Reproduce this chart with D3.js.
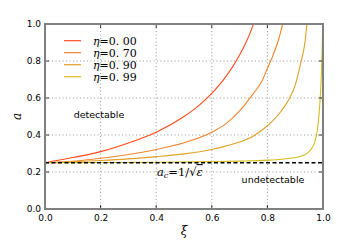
<!DOCTYPE html>
<html>
<head>
<meta charset="utf-8">
<script src="https://cdn.jsdelivr.net/npm/d3@7"></script>
<style>
body { margin: 0; background: #fff; }
svg { display: block; }
.tick text { font-family: "DejaVu Sans", sans-serif; font-size: 9px; fill: #000; }
</style>
</head>
<body>
<svg width="360" height="240"></svg>
<script>
// values
var etaLabels = ["0.00", "0.70", "0.90", "0.99"];
var colors = ["#ff4a1c", "#f3842c", "#dfa128", "#d4bd1c"];

var xi0 = [0, 0.1, 0.2, 0.3, 0.4, 0.5, 0.55, 0.6, 0.65, 0.7, 0.72, 0.74, 0.75];
var a0  = [0.25, 0.278, 0.31, 0.357, 0.415, 0.5, 0.555, 0.625, 0.714, 0.833, 0.89, 0.96, 1.0];

var xi1 = [0, 0.1, 0.2, 0.3, 0.4, 0.5, 0.6, 0.65, 0.7, 0.75, 0.78, 0.8, 0.82, 0.84, 0.855];
var a1  = [0.25, 0.258, 0.274, 0.295, 0.322, 0.358, 0.415, 0.46, 0.53, 0.625, 0.69, 0.76, 0.83, 0.915, 1.0];

var xi2 = [0, 0.1, 0.2, 0.3, 0.4, 0.5, 0.6, 0.65, 0.7, 0.75, 0.8, 0.85, 0.88, 0.9, 0.92, 0.935, 0.942];
var a2  = [0.25, 0.255, 0.262, 0.271, 0.283, 0.298, 0.322, 0.34, 0.362, 0.395, 0.45, 0.53, 0.6, 0.67, 0.79, 0.9, 1.0];

var xi3 = [0, 0.2, 0.4, 0.6, 0.7, 0.8, 0.85, 0.9, 0.93, 0.95, 0.96, 0.97, 0.98, 0.985, 0.99, 0.994, 0.997, 0.999];
var a3  = [0.25, 0.251, 0.253, 0.256, 0.259, 0.264, 0.269, 0.278, 0.29, 0.31, 0.33, 0.36, 0.43, 0.5, 0.6, 0.72, 0.86, 1.0];

var ticks = [0, 0.2, 0.4, 0.6, 0.8, 1.0];
var aCrit = 0.25;

var svg = d3.select("svg"),
    pL = 45, pR = 323, pT = 24, pB = 209;

var x = d3.scaleLinear().domain([0, 1]).range([pL, pR]);
var y = d3.scaleLinear().domain([0, 1]).range([pB, pT]);

var series = [[xi0, a0], [xi1, a1], [xi2, a2], [xi3, a3]].map(function(s) {
  return s[0].map(function(v, i) { return [v, s[1][i]]; });
});

// grid
var grid = svg.append("g");
grid.selectAll(".gx").data(ticks.slice(1, -1)).enter().append("line")
    .attr("x1", function(d) { return x(d); }).attr("x2", function(d) { return x(d); })
    .attr("y1", pT).attr("y2", pB);
grid.selectAll(".gy").data(ticks.slice(1, -1)).enter().append("line")
    .attr("y1", function(d) { return y(d); }).attr("y2", function(d) { return y(d); })
    .attr("x1", pL).attr("x2", pR);
grid.selectAll("line").attr("stroke", "#555").attr("stroke-width", 0.6).attr("stroke-dasharray", "1,2.5");

svg.append("clipPath").attr("id", "clip").append("rect")
    .attr("x", pL).attr("y", pT).attr("width", pR - pL).attr("height", pB - pT);

var line = d3.line()
    .x(function(d) { return x(d[0]); })
    .y(function(d) { return y(d[1]); })
    .curve(d3.curveMonotoneX);

var plot = svg.append("g").attr("clip-path", "url(#clip)");
plot.selectAll("path.curve").data(series).enter().append("path")
    .attr("class", "curve")
    .attr("d", line)
    .attr("fill", "none")
    .attr("stroke", function(d, i) { return colors[i]; })
    .attr("stroke-width", 1.1);

plot.append("line")
    .attr("x1", x(0)).attr("x2", x(1))
    .attr("y1", y(aCrit)).attr("y2", y(aCrit))
    .attr("stroke", "#000").attr("stroke-width", 1.3).attr("stroke-dasharray", "4,2.5");

// axes
var xAxis = d3.axisBottom(x).tickValues(ticks).tickFormat(d3.format(".1f")).tickSize(0).tickPadding(6);
var yAxis = d3.axisLeft(y).tickValues(ticks).tickFormat(d3.format(".1f")).tickSize(0).tickPadding(4);
svg.append("g").attr("transform", "translate(0," + pB + ")").call(xAxis).select(".domain").remove();
svg.append("g").attr("transform", "translate(" + pL + ",0)").call(yAxis).select(".domain").remove();

// inward tick marks on all sides
var tk = svg.append("g").attr("stroke", "#000").attr("stroke-width", 0.8);
ticks.forEach(function(t) {
  tk.append("line").attr("x1", x(t)).attr("x2", x(t)).attr("y1", pB).attr("y2", pB - 4);
  tk.append("line").attr("x1", x(t)).attr("x2", x(t)).attr("y1", pT).attr("y2", pT + 4);
  tk.append("line").attr("y1", y(t)).attr("y2", y(t)).attr("x1", pL).attr("x2", pL + 4);
  tk.append("line").attr("y1", y(t)).attr("y2", y(t)).attr("x1", pR).attr("x2", pR - 4);
});

svg.append("rect")
    .attr("x", pL).attr("y", pT).attr("width", pR - pL).attr("height", pB - pT)
    .attr("fill", "none").attr("stroke", "#808080").attr("stroke-width", 2);

// axis labels
svg.append("text").attr("x", x(0.5)).attr("y", 235)
    .attr("text-anchor", "middle")
    .style("font-family", "DejaVu Serif, serif").style("font-style", "italic").style("font-size", "12px")
    .text("ξ");
svg.append("text").attr("transform", "translate(21," + y(0.5) + ") rotate(-90)")
    .attr("text-anchor", "middle")
    .style("font-family", "DejaVu Serif, serif").style("font-style", "italic").style("font-size", "12px")
    .text("a");

// legend
var lg = svg.append("g");
etaLabels.forEach(function(lab, i) {
  var ly = 40.7 + i * 12;
  lg.append("line").attr("x1", 64).attr("x2", 81).attr("y1", ly).attr("y2", ly)
      .attr("stroke", colors[i]).attr("stroke-width", 1.2);
  var t = lg.append("text").attr("x", 93).attr("y", ly + 4)
      .style("font-family", "DejaVu Serif, serif").style("font-size", "11px");
  t.append("tspan").style("font-style", "italic").text("η");
  t.append("tspan").text("=" + lab.replace(".", ". "));
});

// region labels
svg.append("text").attr("x", 99).attr("y", 118).attr("text-anchor", "middle")
    .style("font-family", "DejaVu Sans, sans-serif").style("font-size", "9.5px").text("detectable");
svg.append("text").attr("x", 273).attr("y", 183).attr("text-anchor", "middle")
    .style("font-family", "DejaVu Sans, sans-serif").style("font-size", "9.5px").text("undetectable");

var ac = svg.append("text").attr("x", 157).attr("y", 176)
    .style("font-family", "DejaVu Serif, serif").style("font-size", "11.5px");
ac.append("tspan").style("font-style", "italic").text("a");
ac.append("tspan").attr("dy", 2).style("font-size", "8px").style("font-style", "italic").text("c");
ac.append("tspan").attr("dy", -2).text("=1/√");
ac.append("tspan").style("font-style", "italic").style("text-decoration", "overline").text("ε");
</script>
</body>
</html>
